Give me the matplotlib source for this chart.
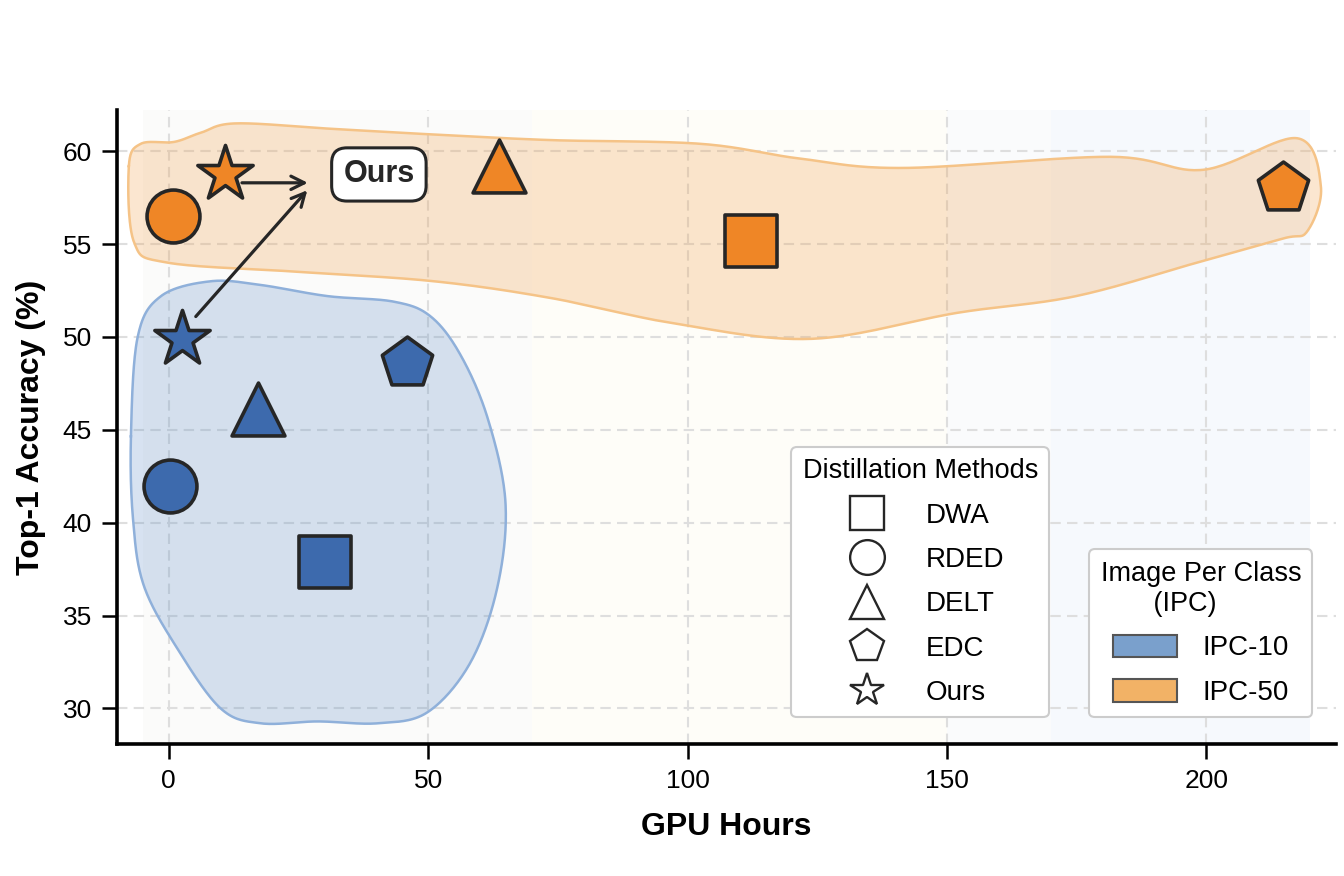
import numpy as np
import matplotlib
matplotlib.use('Agg')
import matplotlib.pyplot as plt
from matplotlib.lines import Line2D
from matplotlib.patches import Patch

plt.rcParams['font.family'] = ['Liberation Sans', 'DejaVu Sans']

# данные
methods = ['DWA', 'RDED', 'DELT', 'EDC', 'Ours']
markers = ['s', 'o', '^', 'p', '*']

gpu_ipc10 = [30.1, 0.2, 17.1, 46.0, 2.5]
acc_ipc10 = [37.9, 42.0, 46.1, 48.6, 49.9]
gpu_ipc50 = [112.3, 0.8, 63.6, 214.8, 10.8]
acc_ipc50 = [55.15, 56.5, 59.2, 58.0, 58.8]

# контуры областей IPC
hull10_x = [-7.3, -6.9, -4.8, 1.7, 10.0, 17.7, 28.7, 40.3, 49.9, 58.2, 63.4, 64.9,
            61.5, 56.3, 50.5, 43.4, 30.6, 17.7, 8.1, -1.5, -6.0]
hull10_y = [44.65, 40.2, 36.6, 33.2, 30.0, 29.2, 29.3, 29.2, 29.8, 32.5, 36.6, 41.1,
            45.6, 49.0, 51.1, 51.9, 52.2, 52.8, 53.0, 52.2, 50.0]
hull50_x = [-7.7, -5.4, 1.0, 6.2, 13.0, 31.8, 51.1, 73.6, 102.5, 121.8, 141.6, 181.5,
            199.4, 217.5, 222.1, 219.5, 214.8, 199.4, 174.9, 152.0, 124.0,
            98.0, 73.6, 51.1, 25.4, -0.2, -6.7]
hull50_y = [59.2, 60.4, 60.5, 61.0, 61.5, 61.2, 60.9, 60.6, 60.4, 59.6, 59.1, 59.7,
            59.0, 60.7, 58.1, 55.7, 55.3, 54.1, 52.2, 51.3, 49.9,
            50.7, 52.1, 53.0, 53.5, 54.0, 55.1]

# фоновые полосы
bands = [(-5, 70, '#fbfbfa'), (70, 150, '#fefdf8'), (150, 170, '#fafbfc'), (170, 220, '#f6f9fd')]

blue = '#3d6aad'
orange = '#ef8626'
edge = '#262626'
sizes = {'s': 1450, 'o': 1450, '^': 1450, 'p': 1450, '*': 1750}


def smooth_closed(xs, ys, n=30):
    ''' Замкнутый сплайн Catmull-Rom '''
    p = np.column_stack([xs, ys])
    m = len(p)
    out = []
    for i in range(m):
        p0, p1, p2, p3 = p[i - 1], p[i], p[(i + 1) % m], p[(i + 2) % m]
        t = np.linspace(0, 1, n, endpoint=False)[:, None]
        seg = 0.5 * ((2 * p1) + (-p0 + p2) * t + (2 * p0 - 5 * p1 + 4 * p2 - p3) * t ** 2
                     + (-p0 + 3 * p1 - 3 * p2 + p3) * t ** 3)
        out.append(seg)
    out = np.vstack(out)
    return out[:, 0], out[:, 1]


fig, ax = plt.subplots(figsize=(13.44, 8.76), dpi=100)
fig.subplots_adjust(left=0.087, right=0.994, bottom=0.151, top=0.874)

for x0, x1, c in bands:
    ax.axvspan(x0, x1, color=c, lw=0, zorder=0)

ax.grid(True, linestyle=(0, (5, 3)), color='#dedede', lw=1.5, zorder=0.5)
ax.set_axisbelow(True)

sx, sy = smooth_closed(hull10_x, hull10_y)
ax.fill(sx, sy, facecolor='#4a7fc1', alpha=0.22, lw=0, zorder=1)
ax.plot(np.append(sx, sx[0]), np.append(sy, sy[0]), color='#8fb0da', lw=1.8, zorder=1.1)
sx, sy = smooth_closed(hull50_x, hull50_y)
ax.fill(sx, sy, facecolor='#f0a04b', alpha=0.26, lw=0, zorder=1)
ax.plot(np.append(sx, sx[0]), np.append(sy, sy[0]), color='#f5c387', lw=1.8, zorder=1.1)

for i, m in enumerate(markers):
    ax.scatter(gpu_ipc10[i], acc_ipc10[i], marker=m, s=sizes[m], c=blue,
               edgecolors=edge, linewidths=2.6, zorder=5)
    ax.scatter(gpu_ipc50[i], acc_ipc50[i], marker=m, s=sizes[m], c=orange,
               edgecolors=edge, linewidths=2.6, zorder=5)

# стрелки к подписи Ours
arrow = dict(arrowstyle='->', color=edge, lw=2.3, mutation_scale=24, shrinkA=0, shrinkB=0)
ax.annotate('', xy=(26.8, 58.3), xytext=(gpu_ipc50[4] + 3.3, 58.3), arrowprops=arrow, zorder=6)
ax.annotate('', xy=(26.7, 57.9), xytext=(gpu_ipc10[4] + 2.7, acc_ipc10[4] + 1.2),
            arrowprops=arrow, zorder=6)
ax.text(40.5, 58.75, 'Ours', fontsize=22, fontweight='bold', ha='center', va='center',
        color=edge, zorder=7,
        bbox=dict(boxstyle='round,pad=0.38,rounding_size=0.5', fc='white', ec=edge, lw=2.2))

ax.set_xlim(-10, 225)
ax.set_ylim(28.1, 62.2)
ax.set_xticks([0, 50, 100, 150, 200])
ax.set_yticks([30, 35, 40, 45, 50, 55, 60])
ax.tick_params(labelsize=19, length=11, width=1.8, pad=7, color='black')
for s in ['top', 'right']:
    ax.spines[s].set_visible(False)
for s in ['left', 'bottom']:
    ax.spines[s].set_linewidth(2.6)
ax.set_xlabel('GPU Hours', fontsize=23, fontweight='bold', labelpad=14)
ax.set_ylabel('Top-1 Accuracy (%)', fontsize=23, fontweight='bold', labelpad=12)

h1 = [Line2D([], [], marker=m, color='none', markerfacecolor='white', markeredgecolor=edge,
             markersize=25, markeredgewidth=1.7) for m in markers]
leg1 = ax.legend(h1, methods, title='Distillation Methods', loc='lower right',
                 bbox_to_anchor=(0.776, 0.02), fontsize=20, title_fontsize=19.5,
                 handlelength=2.2, handletextpad=1.0, labelspacing=0.66,
                 frameon=True, framealpha=1, edgecolor='#cccccc', fancybox=True)
leg1.get_frame().set_linewidth(1.5)
ax.add_artist(leg1)

h2 = [Patch(facecolor='#7aa0cc', edgecolor='#555555', lw=1.5),
      Patch(facecolor='#f2b266', edgecolor='#555555', lw=1.5)]
leg2 = ax.legend(h2, ['IPC-10', 'IPC-50'], title='Image Per Class\n       (IPC)', loc='lower right',
                 bbox_to_anchor=(0.992, 0.02), fontsize=20, title_fontsize=19.5,
                 handlelength=2.3, handleheight=0.85, handletextpad=0.9, labelspacing=0.65,
                 frameon=True, framealpha=1, edgecolor='#cccccc', fancybox=True)
leg2.get_frame().set_linewidth(1.5)

fig.savefig('out.png', dpi=100)
